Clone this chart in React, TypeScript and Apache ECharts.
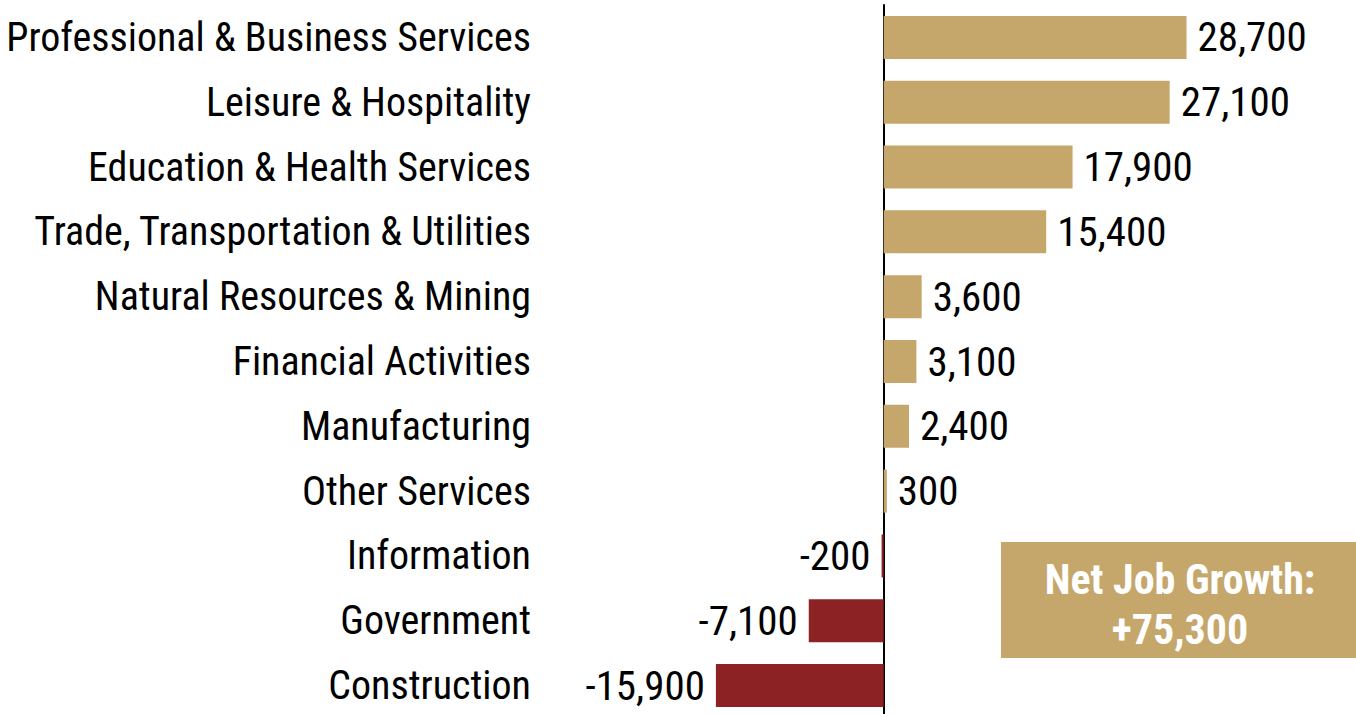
import React, { useEffect, useRef } from "react";
import * as echarts from "echarts";

const categories = [
  "Professional & Business Services",
  "Leisure & Hospitality",
  "Education & Health Services",
  "Trade, Transportation & Utilities",
  "Natural Resources & Mining",
  "Financial Activities",
  "Manufacturing",
  "Other Services",
  "Information",
  "Government",
  "Construction",
];
const jobChange = [28700, 27100, 17900, 15400, 3600, 3100, 2400, 300, -200, -7100, -15900];
const netGrowthLines = ["Net Job Growth:", "+75,300"];

const GOLD = "#C5A76B";
const RED = "#8C2224";
const FONT = "'Roboto Condensed', Roboto, sans-serif";

const fmt = (v: number) => v.toLocaleString("en-US");

export default function App() {
  const ref = useRef<HTMLDivElement>(null);
  useEffect(() => {
    if (!ref.current) return;
    const chart = echarts.init(ref.current, undefined, { renderer: "svg" });
    chart.setOption({
      animation: false,
      backgroundColor: "#ffffff",
      grid: {
        left: 546,
        right: 8,
        top: 5,
        bottom: -4,
        containLabel: false,
        outerBoundsMode: "none",
      },
      xAxis: {
        type: "value",
        min: -32000,
        max: 44000,
        show: false,
        splitLine: { show: false },
      },
      yAxis: {
        type: "category",
        data: categories,
        inverse: true,
        axisLine: { show: true, onZero: true, lineStyle: { color: "#000", width: 2 } },
        axisTick: { show: false },
        axisLabel: {
          margin: 15,
          fontSize: 40,
          fontFamily: FONT,
          color: "#000",
        },
      },
      series: [
        {
          type: "bar",
          barWidth: 43,
          data: jobChange.map((v) => ({
            value: v,
            itemStyle: { color: v >= 0 ? GOLD : RED },
            label: {
              show: true,
              position: v >= 0 ? "right" : "left",
              distance: 11,
              formatter: () => fmt(v),
              fontSize: 41,
              fontFamily: FONT,
              color: "#000",
            },
          })),
        },
      ],
      graphic: [
        {
          type: "rect",
          shape: { x: 1001, y: 542, width: 360, height: 116 },
          style: { fill: GOLD },
          z: 10,
        },
        {
          type: "text",
          x: 1180,
          y: 579,
          z: 11,
          style: {
            text: netGrowthLines[0],
            fill: "#fff",
            fontSize: 42,
            fontWeight: "bold",
            fontFamily: FONT,
            textAlign: "center",
            textVerticalAlign: "middle",
          },
        },
        {
          type: "text",
          x: 1180,
          y: 629,
          z: 11,
          style: {
            text: netGrowthLines[1],
            fill: "#fff",
            fontSize: 42,
            fontWeight: "bold",
            fontFamily: FONT,
            textAlign: "center",
            textVerticalAlign: "middle",
          },
        },
      ],
    });
    return () => chart.dispose();
  }, []);
  return (
    <div
      ref={ref}
      style={{ position: "fixed", left: 0, top: 0, width: 1356, height: 714 }}
    />
  );
}
